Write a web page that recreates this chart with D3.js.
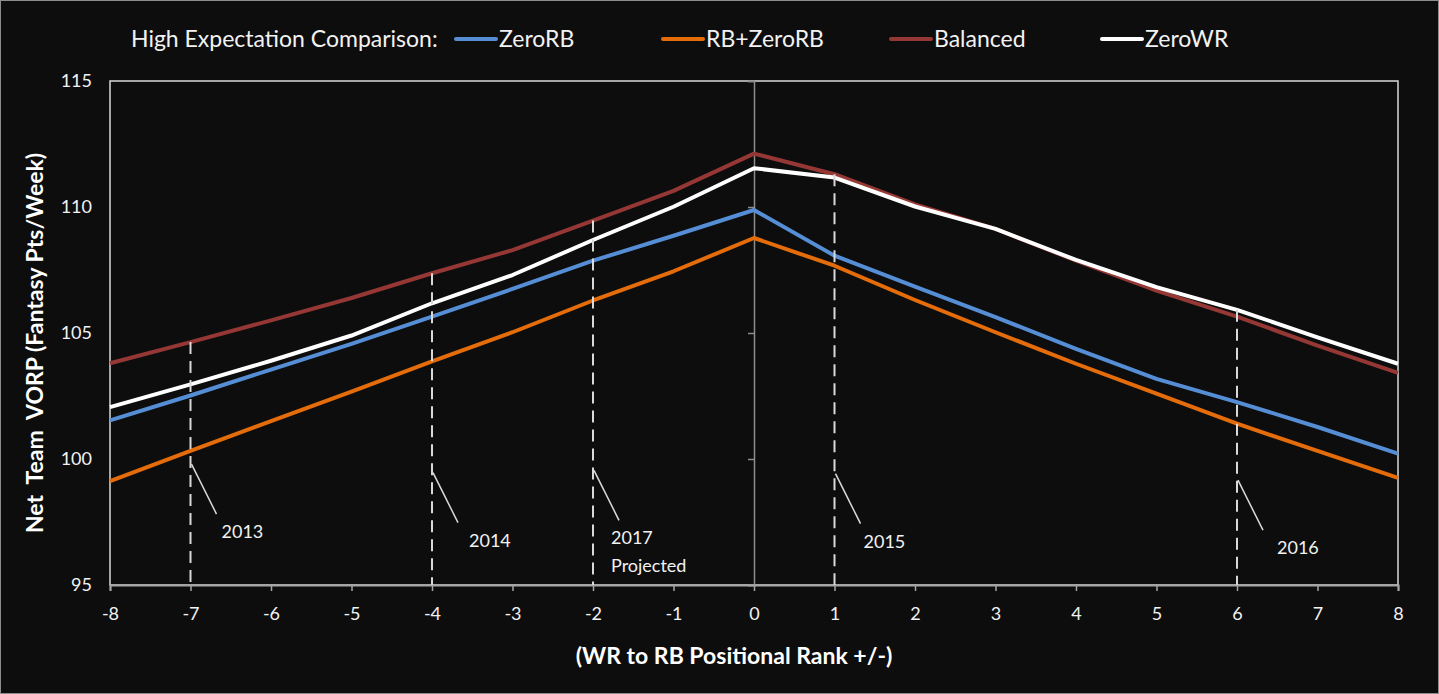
<!DOCTYPE html>
<html>
<head>
<meta charset="utf-8">
<script src="https://cdn.jsdelivr.net/npm/d3@7"></script>
<style>
  html, body { margin: 0; padding: 0; background: #0d0d0d; }
  svg { display: block; font-family: Lato, "Open Sans", sans-serif; }
</style>
</head>
<body>
<svg id="chart"></svg>
<script>
// values
const ranks = [-8, -7, -6, -5, -4, -3, -2, -1, 0, 1, 2, 3, 4, 5, 6, 7, 8];
const zeroRB   = [101.53, 102.52, 103.55, 104.57, 105.65, 106.75, 107.87, 108.86, 109.88, 108.07, 106.84, 105.63, 104.37, 103.18, 102.26, 101.27, 100.21];
const rbZeroRB = [99.12, 100.32, 101.50, 102.67, 103.87, 105.03, 106.29, 107.45, 108.77, 107.67, 106.31, 105.03, 103.78, 102.59, 101.40, 100.32, 99.25];
const balanced = [103.80, 104.64, 105.50, 106.39, 107.37, 108.29, 109.46, 110.64, 112.12, 111.30, 110.10, 109.13, 107.87, 106.68, 105.65, 104.50, 103.42];
const zeroWR   = [102.06, 102.96, 103.90, 104.90, 106.18, 107.30, 108.69, 110.01, 111.54, 111.17, 110.02, 109.13, 107.90, 106.82, 105.92, 104.83, 103.78];

const seriesNames = ['ZeroRB', 'RB+ZeroRB', 'Balanced', 'ZeroWR'];
const yTicks = [95, 100, 105, 110, 115];

// season markers
const markYears  = ['2013', '2014', '2017', '2015', '2016'];
const markRanks  = [-7, -4, -2, 1, 6];
const markAnchor = [99.8, 99.46, 99.55, 99.42, 99.16];
const markSub    = ['', '', 'Projected', '', ''];

// layout
const width = 1439, height = 694;
const colors = ['#558ed5', '#e46c0a', '#953735', '#ffffff'];
const legendX = [456, 663, 891, 1102];
const labelShift = [5, 11, -8, 3, 14];

const x = d3.scaleLinear().domain([-8, 8]).range([110, 1398]);
const y = d3.scaleLinear().domain([95, 115]).range([585, 81]);

const svg = d3.select('#chart')
    .attr('width', width)
    .attr('height', height);

svg.append('rect')
    .attr('x', 0.5).attr('y', 0.5)
    .attr('width', width - 1).attr('height', height - 1)
    .attr('fill', '#0d0d0d')
    .attr('stroke', '#8c8c8c');

// plot frame
svg.append('rect')
    .attr('x', x(-8)).attr('y', y(115))
    .attr('width', x(8) - x(-8)).attr('height', y(95) - y(115))
    .attr('fill', 'none')
    .attr('stroke', '#d9d9d9')
    .attr('stroke-width', 1.5);

// vertical axis crossing at 0
svg.append('g')
    .attr('transform', `translate(${x(0)},0)`)
    .call(d3.axisLeft(y).tickValues(yTicks).tickSize(6).tickFormat(''))
    .call(g => g.select('.domain').attr('stroke', '#8c8c8c').attr('stroke-width', 1.5))
    .call(g => g.selectAll('.tick line').attr('stroke', '#8c8c8c').attr('stroke-width', 1.5));

// y tick labels at the left
svg.append('g')
    .attr('transform', `translate(${x(-8)},0)`)
    .call(d3.axisLeft(y).tickValues(yTicks).tickSize(0).tickPadding(18))
    .call(g => g.select('.domain').remove())
    .call(g => g.selectAll('text')
        .attr('fill', '#f2f2f2')
        .style('font-size', '18px')
        .style('font-family', 'Lato, sans-serif'));

// bottom axis
svg.append('g')
    .attr('transform', `translate(0,${y(95)})`)
    .call(d3.axisBottom(x).tickValues(ranks).tickSize(6).tickPadding(16).tickFormat(d => String(d)))
    .call(g => g.select('.domain').attr('stroke', '#a6a6a6').attr('stroke-width', 2))
    .call(g => g.selectAll('.tick line').attr('stroke', '#a6a6a6').attr('stroke-width', 1.5))
    .call(g => g.selectAll('text')
        .attr('fill', '#f2f2f2')
        .style('font-size', '18px')
        .style('font-family', 'Lato, sans-serif'));

// series lines
const allSeries = [zeroRB, rbZeroRB, balanced, zeroWR];
const line = d3.line()
    .x((d, i) => x(ranks[i]))
    .y(d => y(d));

const drawOrder = [2, 0, 1, 3];
drawOrder.forEach(k => {
  svg.append('path')
      .datum(allSeries[k])
      .attr('fill', 'none')
      .attr('stroke', colors[k])
      .attr('stroke-width', 4)
      .attr('stroke-linejoin', 'round')
      .attr('d', line);
});

// dashed season markers
const topAt = r => d3.max(allSeries, s => s[ranks.indexOf(r)]);

const marks = svg.append('g');
markRanks.forEach((r, i) => {
  const mx = x(r);
  marks.append('line')
      .attr('x1', mx).attr('x2', mx)
      .attr('y1', y(topAt(r))).attr('y2', y(95))
      .attr('stroke', '#d9d9d9')
      .attr('stroke-width', 2)
      .attr('stroke-dasharray', '12,7');

  const ax = mx + 1, ay = y(markAnchor[i]);
  marks.append('line')
      .attr('x1', ax).attr('y1', ay)
      .attr('x2', ax + 25).attr('y2', ay + 50)
      .attr('stroke', '#d9d9d9')
      .attr('stroke-width', 1.5);

  marks.append('text')
      .attr('x', ax + 25 + labelShift[i])
      .attr('y', ay + 74)
      .attr('fill', '#f2f2f2')
      .style('font-size', '18px')
      .text(markYears[i]);
  if (markSub[i]) {
    marks.append('text')
        .attr('x', ax + 25 + labelShift[i])
        .attr('y', ay + 102)
        .attr('fill', '#f2f2f2')
        .style('font-size', '18px')
        .text(markSub[i]);
  }
});

// axis titles
svg.append('text')
    .attr('transform', 'translate(43,343) rotate(-90)')
    .attr('text-anchor', 'middle')
    .attr('fill', '#ffffff')
    .style('font-size', '23px')
    .style('font-weight', 'bold')
    .style('white-space', 'pre')
    .text('Net  Team  VORP (Fantasy Pts/Week)');

svg.append('text')
    .attr('x', 734)
    .attr('y', 664)
    .attr('text-anchor', 'middle')
    .attr('fill', '#ffffff')
    .style('font-size', '23px')
    .style('font-weight', 'bold')
    .text('(WR to RB Positional Rank +/-)');

// legend
const legend = svg.append('g').style('font-size', '23px');
legend.append('text')
    .attr('x', 131).attr('y', 47)
    .attr('fill', '#f2f2f2')
    .text('High Expectation Comparison:');

seriesNames.forEach((name, i) => {
  const lx = legendX[i];
  legend.append('line')
      .attr('x1', lx).attr('x2', lx + 40)
      .attr('y1', 39).attr('y2', 39)
      .attr('stroke', colors[i])
      .attr('stroke-width', 4)
      .attr('stroke-linecap', 'round');
  legend.append('text')
      .attr('x', lx + 43).attr('y', 47)
      .attr('fill', '#f2f2f2')
      .text(name);
});
</script>
</body>
</html>
